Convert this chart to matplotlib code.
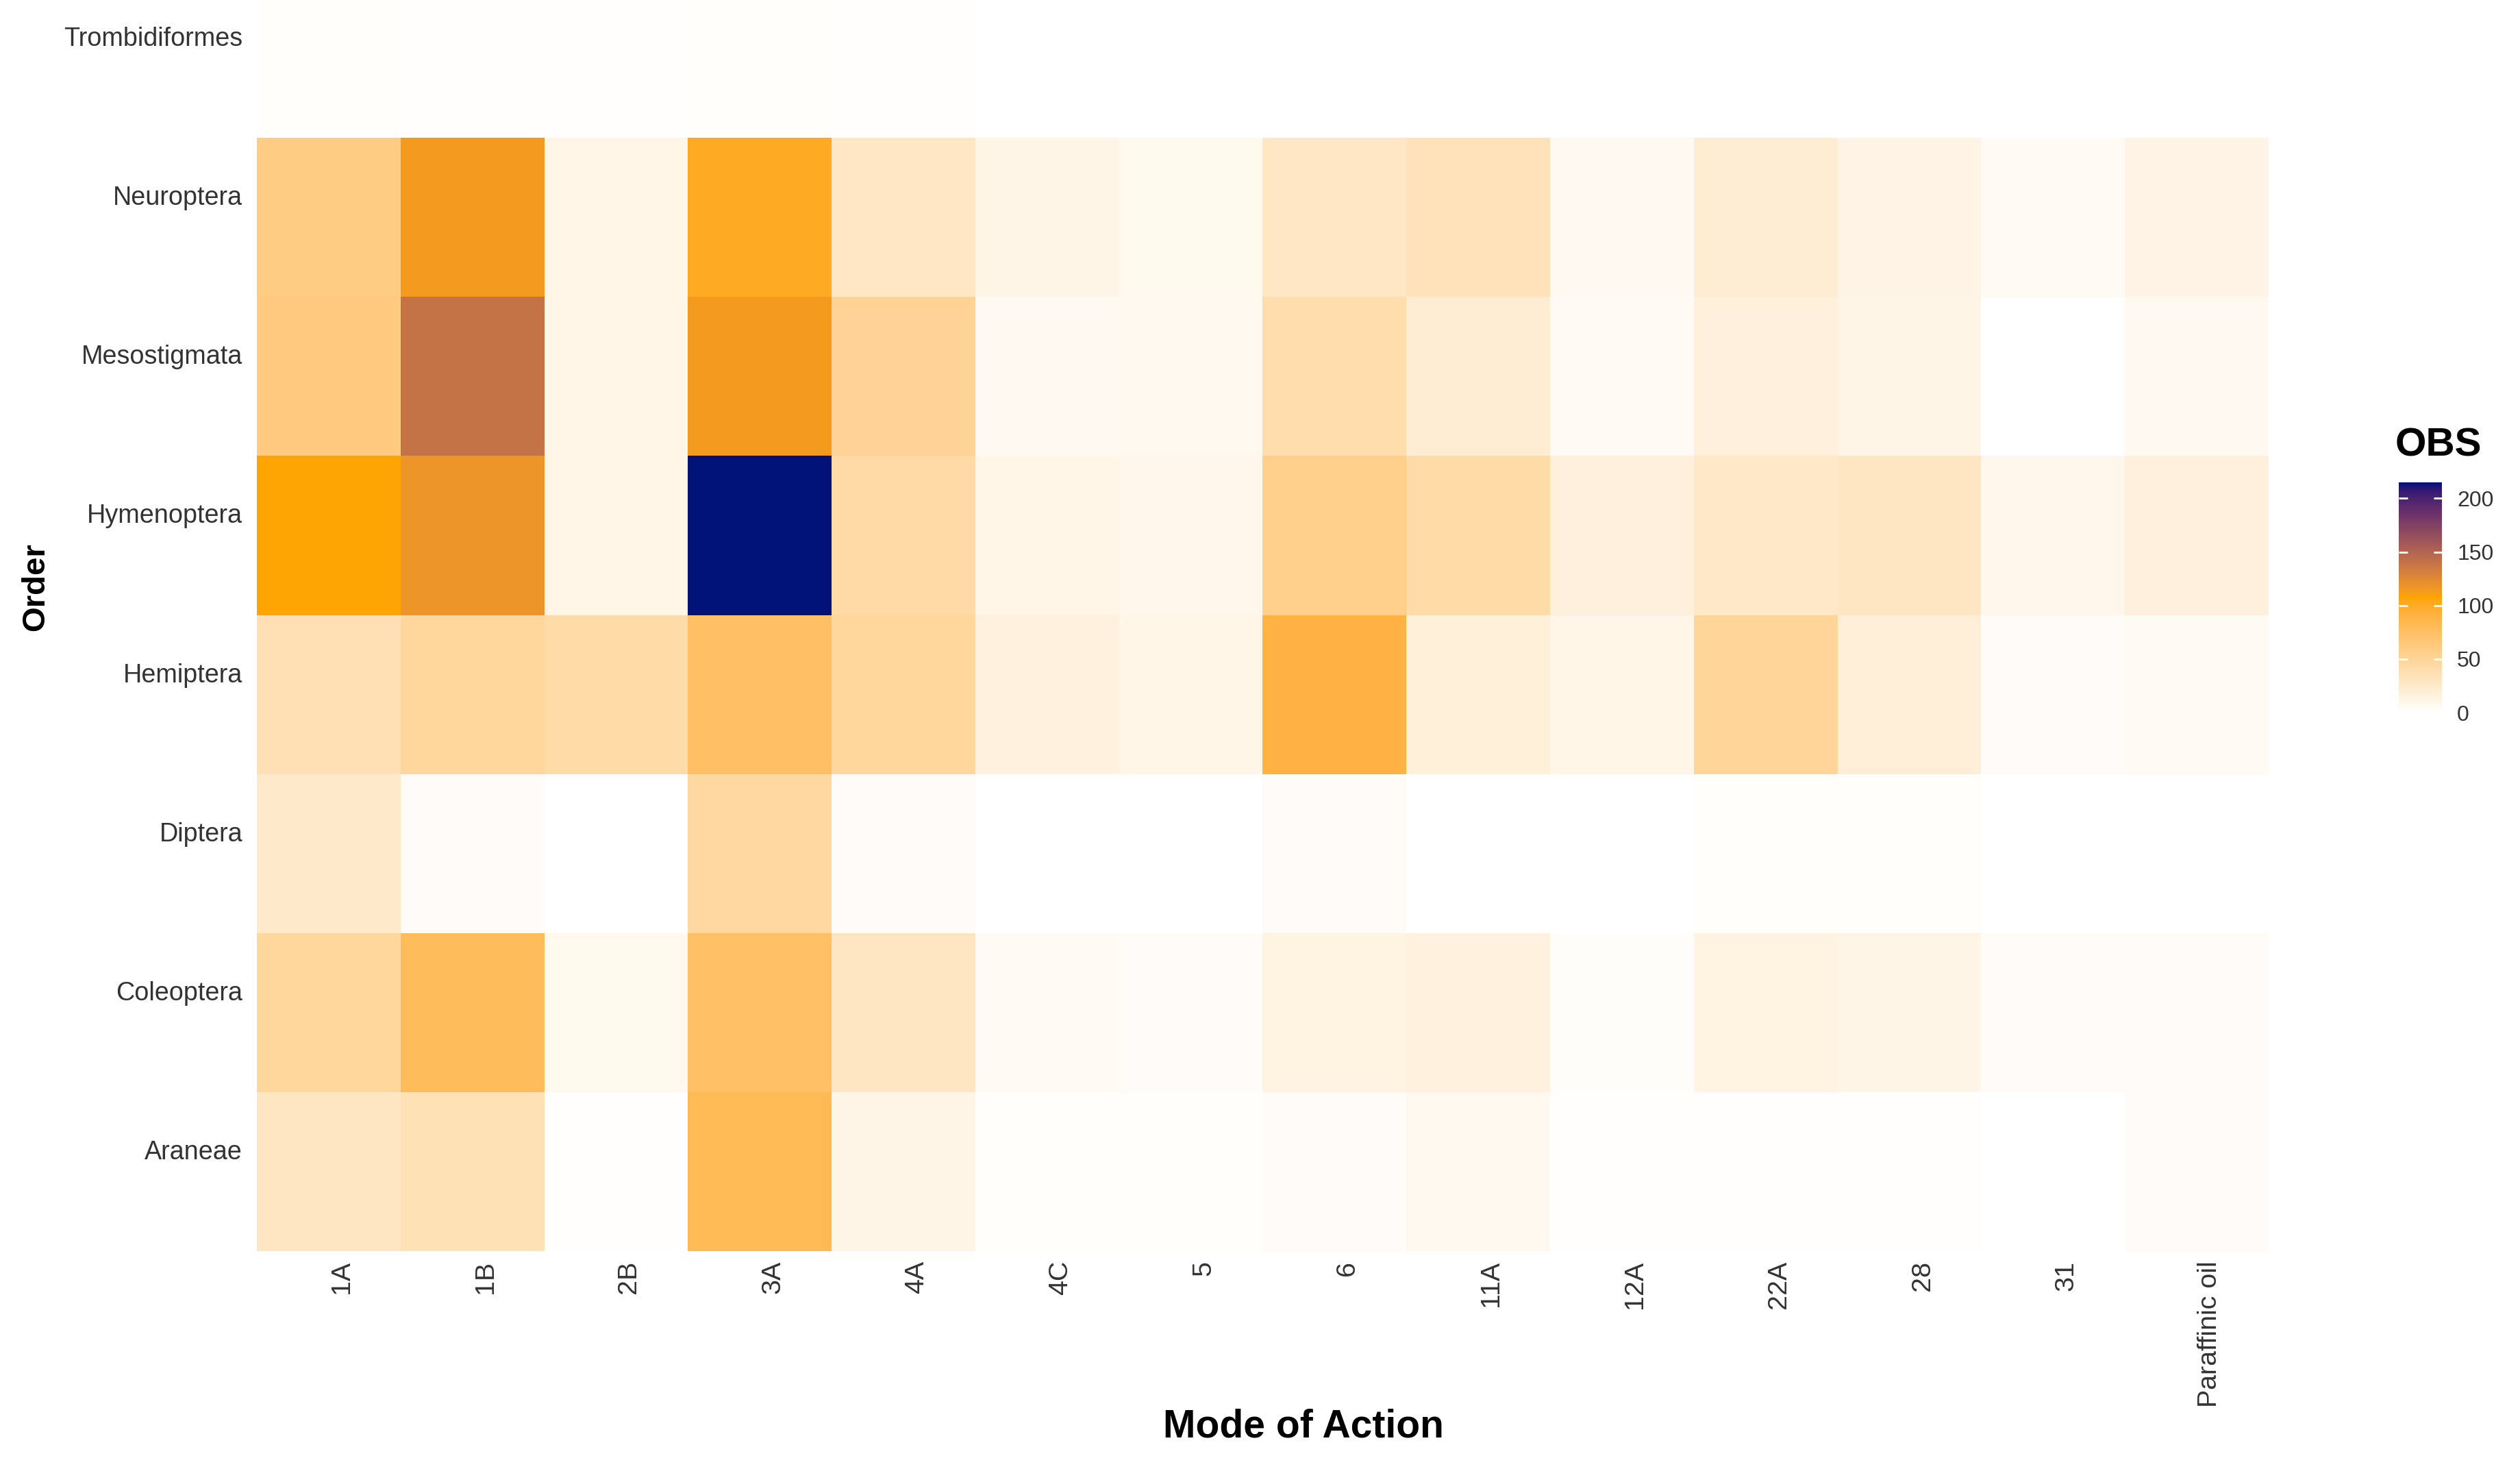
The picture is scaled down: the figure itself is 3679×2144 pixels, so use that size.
import numpy as np
import matplotlib
matplotlib.use('Agg')
import matplotlib.pyplot as plt
import matplotlib.transforms as mtransforms
from matplotlib.colors import ListedColormap, to_rgb

plt.rcParams['font.family'] = ['Liberation Sans', 'DejaVu Sans']

# ---- data (OBS counts; nan = no tile) ----
nan = np.nan
orders = ['Araneae', 'Coleoptera', 'Diptera', 'Hemiptera', 'Hymenoptera',
          'Mesostigmata', 'Neuroptera', 'Trombidiformes']
moa = ['1A', '1B', '2B', '3A', '4A', '4C', '5', '6', '11A', '12A', '22A',
       '28', '31', 'Paraffinic oil']

araneae        = [30, 36, 1, 82, 12, 2, 2, 5, 8, 1, 1, 1, nan, 5]
coleoptera     = [48, 79, 9, 74, 30, 6, 5, 15, 16, 3, 15, 12, 4, 4]
diptera        = [26, 5, nan, 47, 4, nan, nan, 4, nan, nan, 2, 2, nan, nan]
hemiptera      = [37, 48, 42, 75, 48, 16, 11, 90, 18, 11, 50, 20, 5, 6]
hymenoptera    = [107, 118, 11, 215, 44, 11, 10, 57, 42, 17, 27, 30, 10, 17]
mesostigmata   = [62, 140, 11, 114, 52, 7, 8, 40, 21, 6, 17, 12, nan, 7]
neuroptera     = [60, 114, 11, 101, 29, 12, 9, 28, 34, 7, 21, 13, 6, 13]
trombidiformes = [2, 1, 1, 2, 1, nan, nan, nan, nan, nan, nan, nan, nan, nan]

Z = np.ma.masked_invalid(np.array([araneae, coleoptera, diptera, hemiptera,
                                   hymenoptera, mesostigmata, neuroptera,
                                   trombidiformes], dtype=float))
vmax = 215

# ---- white -> orange -> navy gradient, interpolated in Lab like ggplot ----
M = np.array([[0.4124, 0.3576, 0.1805],
              [0.2126, 0.7152, 0.0722],
              [0.0193, 0.1192, 0.9505]])
WP = np.array([0.95047, 1.0, 1.08883])

def to_lab(c):
    c = np.asarray(to_rgb(c))
    lin = np.where(c <= 0.04045, c / 12.92, ((c + 0.055) / 1.055) ** 2.4)
    xyz = M @ lin / WP
    f = np.where(xyz > 0.008856, np.cbrt(xyz), 7.787 * xyz + 16 / 116)
    return np.array([116 * f[1] - 16, 500 * (f[0] - f[1]), 200 * (f[1] - f[2])])

def from_lab(lab):
    L, a, b = lab
    fy = (L + 16) / 116
    f = np.array([fy + a / 500, fy, fy - b / 200])
    xyz = np.where(f ** 3 > 0.008856, f ** 3, (f - 16 / 116) / 7.787) * WP
    lin = np.clip(np.linalg.solve(M, xyz), 0, 1)
    c = np.where(lin <= 0.0031308, 12.92 * lin, 1.055 * lin ** (1 / 2.4) - 0.055)
    return np.clip(c, 0, 1)

stops = [to_lab('white'), to_lab('orange'), to_lab('#001278')]
cols = []
for t in np.linspace(0, 1, 256):
    if t <= 0.5:
        s = t / 0.5
        cols.append(from_lab(stops[0] * (1 - s) + stops[1] * s))
    else:
        s = (t - 0.5) / 0.5
        cols.append(from_lab(stops[1] * (1 - s) + stops[2] * s))
cmap = ListedColormap(cols)

# ---- figure ----
fig = plt.figure(figsize=(18.4, 10.72), dpi=200)
ax = fig.add_axes([0.1019, 0.1483, 0.7981, 0.8517])

x = np.arange(len(moa) + 1) - 0.5
y = np.arange(len(orders) + 1) - 0.5
mesh = ax.pcolormesh(x, y, Z, cmap=cmap, vmin=0, vmax=vmax, edgecolors='none')

ax.set_xlim(-0.5, len(moa) - 0.5)
ax.set_ylim(-0.5, 6.5 + 201 / 232)
for s in ax.spines.values():
    s.set_visible(False)

ax.set_xticks(np.arange(len(moa)))
ax.set_xticklabels(moa, rotation=90, ha='center', va='top', fontsize=14.2, color='#333333')
ax.set_yticks(np.arange(len(orders)))
ax.set_yticklabels(orders, fontsize=13.6, color='#333333')
ax.tick_params(length=0)
ax.tick_params(axis='x', pad=5)
ax.tick_params(axis='y', pad=7.5)

# ggplot-like label offsets seen in the reference
dx = mtransforms.ScaledTranslation(0.095, 0, fig.dpi_scale_trans)
for lab in ax.get_xticklabels():
    lab.set_transform(lab.get_transform() + dx)
dy = mtransforms.ScaledTranslation(0, 0.16, fig.dpi_scale_trans)
for lab in ax.get_yticklabels():
    lab.set_transform(lab.get_transform() + dy)

fig.text(1903 / 3680, 1 - 2082 / 2144, 'Mode of Action', ha='center', va='center',
         fontsize=20.5, fontweight='bold')
fig.text(52 / 3680, 1 - 857 / 2144, 'Order', ha='center', va='center', rotation=90,
         fontsize=17, fontweight='bold')

# ---- colourbar ----
cax = fig.add_axes([3502 / 3680, 1 - 1040 / 2144, 63 / 3680, 336 / 2144])
cb = fig.colorbar(mesh, cax=cax, ticks=[0, 50, 100, 150, 200])
cb.outline.set_visible(False)
cax.tick_params(axis='y', direction='in', color='white', length=4.5, width=1,
                left=True, right=True, labelleft=False, labelright=True,
                labelsize=11.5, labelcolor='#333333', pad=8)
fig.text(3497 / 3680, 1 - 650 / 2144, 'OBS', ha='left', va='center',
         fontsize=21, fontweight='bold')

fig.savefig('out.png', dpi=200, facecolor='white')
